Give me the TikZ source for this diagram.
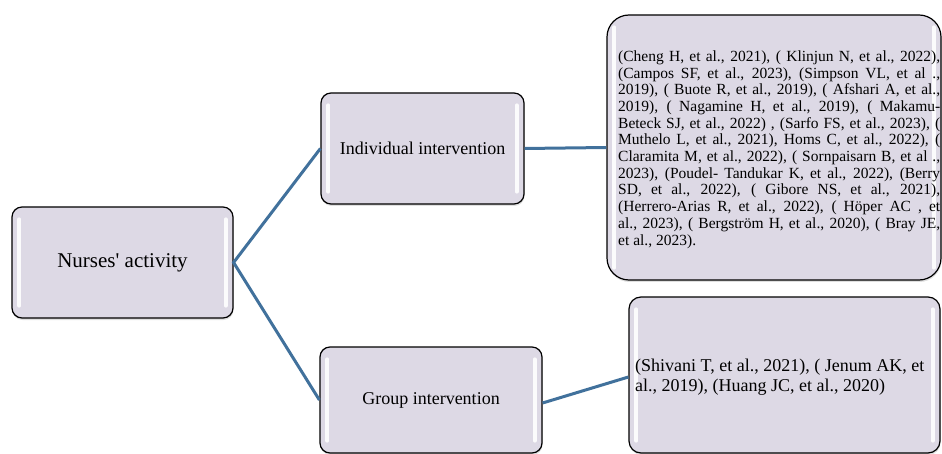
\documentclass[tikz,border=0pt]{standalone}
\usepackage{fontspec}
\setmainfont{Liberation Serif}
\usetikzlibrary{shadows}
\definecolor{boxfill}{RGB}{221,217,229}
\definecolor{linkblue}{RGB}{65,113,156}
\hbadness=10000
\tikzset{
  box/.style={draw=black, line width=1.2pt, fill=boxfill, rounded corners=10pt,
    drop shadow={opacity=0.25, shadow xshift=0.5pt, shadow yshift=-2pt},
    inner sep=0pt, align=center},
  gloss/.style={white, line width=4pt, line cap=round, opacity=0.9},
  link/.style={linkblue, line width=3pt},
  cite/.style={anchor=west, inner sep=0pt, align=left},
}
\newcommand\glossy[1]{%
  \draw[gloss] ([xshift=8pt,yshift=-13pt]#1.north west) -- ([xshift=8pt,yshift=13pt]#1.south west);
  \draw[gloss] ([xshift=-8pt,yshift=-13pt]#1.north east) -- ([xshift=-8pt,yshift=13pt]#1.south east);}
\newcommand\jl[1]{\hbox to\hsize{#1}}
\begin{document}
\begin{tikzpicture}[x=1pt,y=-1pt]
\useasboundingbox (0,0) rectangle (942,454);

% boxes
\node[box, minimum width=221pt, minimum height=111pt, font=\fontsize{21}{25}\selectfont] (nurse) at (122.5,262.5) {Nurses\textquotesingle{} activity};
\node[box, minimum width=203pt, minimum height=111pt, font=\fontsize{18}{21}\selectfont] (indiv) at (422.5,148.5) {Individual intervention};
\node[box, minimum width=222pt, minimum height=106pt, font=\fontsize{18}{21}\selectfont] (group) at (431,400) {Group intervention};
\node[box, rounded corners=22pt, minimum width=334pt, minimum height=265pt] (cit1) at (774,147.5) {};
\node[box, rounded corners=12pt, minimum width=311pt, minimum height=156pt] (cit2) at (784.5,375) {};

\glossy{nurse}
\glossy{indiv}
\glossy{group}
\glossy{cit1}
\glossy{cit2}

% texts of the reference boxes
\node[cite, font=\fontsize{15.5}{16.7}\selectfont] (cit1txt) at (618,149.5) {\vbox{\hsize=322pt
\jl{(Cheng H, et al., 2021), ( Klinjun N, et al., 2022),}
\jl{(Campos SF, et al., 2023), (Simpson VL, et al .,}
\jl{2019), ( Buote R, et al., 2019), ( Afshari A, et al.,}
\jl{2019), ( Nagamine H, et al., 2019), ( Makamu-}
\jl{Beteck SJ, et al., 2022) , (Sarfo FS, et al., 2023), (}
\jl{Muthelo L, et al., 2021), Homs C, et al., 2022), (}
\jl{Claramita M, et al., 2022), ( Sornpaisarn B, et al .,}
\jl{2023), (Poudel- Tandukar K, et al., 2022), (Berry}
\jl{SD, et al., 2022), ( Gibore NS, et al., 2021),}
\jl{(Herrero-Arias R, et al., 2022), ( Höper AC , et}
\jl{al., 2023), ( Bergström H, et al., 2020), ( Bray JE,}
\hbox{et al., 2023).}}};
\node[cite, font=\fontsize{18}{20}\selectfont] (cit2txt) at (635,377.5) {(Shivani T, et al., 2021), ( Jenum AK, et\\al., 2019), (Huang JC, et al., 2020)};

% connectors
\draw[link] (indiv.west) -- (nurse.east) -- (group.west);
\draw[link] (indiv.east) -- (cit1.west);
\draw[link] ([yshift=-3pt]group.east) -- ([yshift=-2pt]cit2.west);
\end{tikzpicture}
\end{document}
